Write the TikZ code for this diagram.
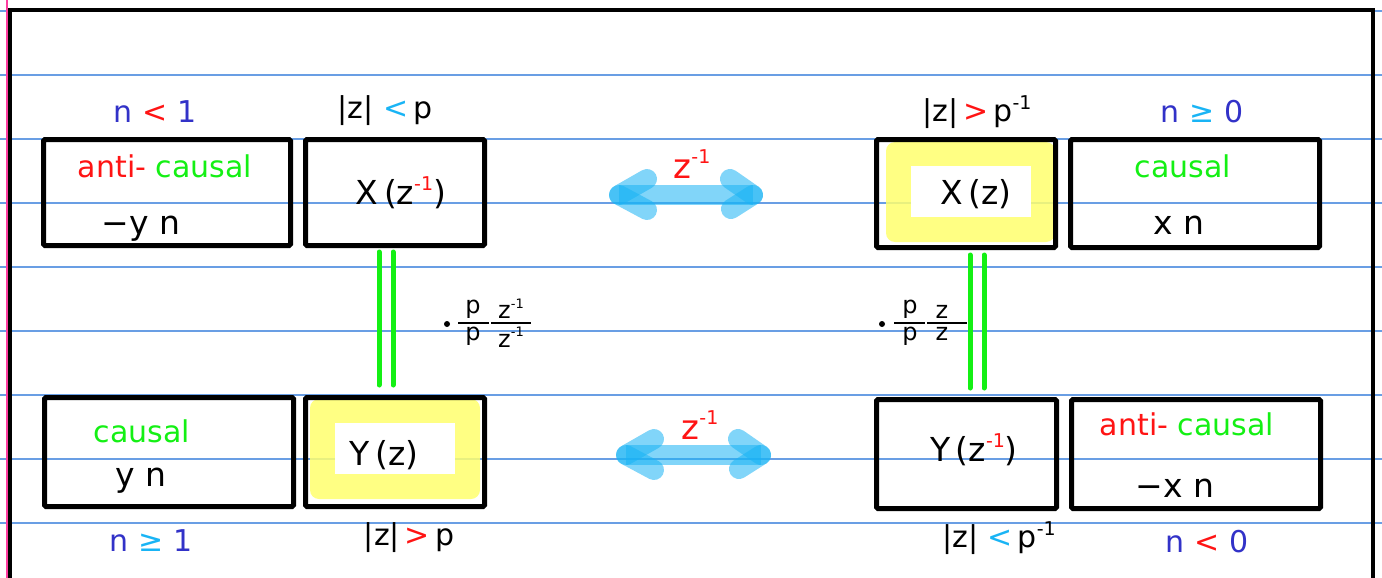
\documentclass[tikz,border=0pt]{standalone}
\usepackage{fontspec}
\setmainfont{DejaVu Sans}
\usetikzlibrary{calc}
\definecolor{rulec}{RGB}{105,158,228}
\definecolor{nblue}{RGB}{50,50,200}
\definecolor{cyanc}{RGB}{25,180,245}
\definecolor{redc}{RGB}{255,20,20}
\definecolor{greenc}{RGB}{20,240,20}
\definecolor{arrowc}{RGB}{26,180,245}
\definecolor{hyellow}{RGB}{255,255,110}
\definecolor{pinkc}{RGB}{255,60,160}
\newcommand{\hwf}{\fontsize{30}{32}\selectfont}
\newcommand{\bxf}{\fontsize{33}{35}\selectfont}
\newcommand{\sups}[1]{\raisebox{0.42em}{\fontsize{19}{19}\selectfont #1}}
\newcommand{\smsup}[1]{\raisebox{0.45em}{\fontsize{13}{13}\selectfont #1}}
\begin{document}
\begin{tikzpicture}[x=1pt,y=-1pt,
  box/.style={draw=black,line width=5pt,rounded corners=1.5pt,inner sep=0pt},
  lab/.style={font=\hwf,inner sep=0pt},
  blab/.style={font=\bxf,inner sep=0pt},
  frac/.style={font=\fontsize{24}{25}\selectfont,inner sep=0pt},
  fbar/.style={draw=black,line width=1.4pt},
  ruled/.style={draw=rulec,line width=1.1pt},
  frame/.style={draw=black,line width=4pt},
  hilite/.style={fill=hyellow,fill opacity=0.85,rounded corners=9pt},
  blank/.style={fill=white},
  eqline/.style={draw=greenc,line width=5pt,line cap=round},
  arrline/.style={draw=arrowc,draw opacity=0.55,line width=20pt},
  arrhead/.style={draw=arrowc,draw opacity=0.55,line width=20pt,line cap=round}
]
\useasboundingbox (0,0) rectangle (1382,578);
\fill[white] (0,0) rectangle (1382,578);
% ruled paper
\foreach \yy in {11,75,139,203,267,331,395,459,523}
  \draw[ruled] (0,\yy) -- (1382,\yy);
\draw[draw=pinkc,line width=2pt] (7,0) -- (7,578);
\draw[frame] (9.5,578) -- (9.5,10) -- (1372.5,10) -- (1372.5,578);

% highlights
\fill[hilite] (886,142) rectangle (1055,242);
\fill[blank] (911,166) rectangle (1031,217);
\fill[hilite] (310,399) rectangle (480,499);
\fill[blank] (335,423) rectangle (455,474);

% boxes
\node[box,minimum width=247pt,minimum height=106pt] (a) at (167,192.5) {};
\node[box,minimum width=179pt,minimum height=106pt] (b) at (395,192.5) {};
\node[box,minimum width=179pt,minimum height=108pt] (c) at (966,193.5) {};
\node[box,minimum width=249pt,minimum height=108pt] (d) at (1195,193.5) {};
\node[box,minimum width=249pt,minimum height=109pt] (e) at (169,452) {};
\node[box,minimum width=179pt,minimum height=109pt] (f) at (395,452) {};
\node[box,minimum width=180pt,minimum height=109pt] (g) at (966.5,454) {};
\node[box,minimum width=249pt,minimum height=109pt] (h) at (1196,454) {};

% box contents
\node[lab,anchor=base] (a1) at (165,177) {{\color{redc}anti-} {\color{greenc}causal}};
\node[blab] (a2) at (141,229) {−y n};
\node[blab] (b1) at (401,193) {X\,(z\sups{\color{redc}-1})};
\node[blab] (c1) at (976,194) {X\,(z)};
\node[lab,anchor=base] (d1) at (1183,177) {\color{greenc}causal};
\node[blab] (d2) at (1179,225) {x n};
\node[lab,anchor=base] (e1) at (142,442) {\color{greenc}causal};
\node[blab] (e2) at (141,481) {y n};
\node[blab] (f1) at (384,455) {Y\,(z)};
\node[blab] (g1) at (974,450) {Y\,(z\sups{\color{redc}-1})};
\node[lab,anchor=base] (h1) at (1187,435) {{\color{redc}anti-} {\color{greenc}causal}};
\node[blab] (h2) at (1175,488) {−x n};

% labels above / below
\node[lab] (la) at (155,112) {\color{nblue}n {\color{redc}<} 1};
\node[lab] (lb) at (385,111) {|z| {\color{cyanc}<}\,p};
\node[lab] (lc) at (977,112) {|z|\,{\color{redc}>}\,p\sups{-1}};
\node[lab] (ld) at (1202,112) {\color{nblue}n {\color{cyanc}≥} 0};
\node[lab] (le) at (151,541) {\color{nblue}n {\color{cyanc}≥} 1};
\node[lab] (lf) at (409,538) {|z|\,{\color{redc}>}\,p};
\node[lab] (lg) at (999,538) {|z| {\color{cyanc}<}\,p\sups{-1}};
\node[lab] (lh) at (1207,542) {\color{nblue}n {\color{redc}<} 0};

% equality connectors
\draw[eqline] ([xshift=-16pt,yshift=-4pt]b.south) -- ([xshift=-16pt,yshift=10pt]f.north);
\draw[eqline] ([xshift=-2pt,yshift=-4pt]b.south) -- ([xshift=-2pt,yshift=10pt]f.north);
\draw[eqline] ([xshift=4pt,yshift=-5pt]c.south) -- ([xshift=3.5pt,yshift=9pt]g.north);
\draw[eqline] ([xshift=18pt,yshift=-5pt]c.south) -- ([xshift=17.5pt,yshift=9pt]g.north);

% factor labels (left)
\fill (447,324) circle (3);
\node[frac,anchor=south] (lpn) at (473,319) {p};
\node[frac,anchor=north] (lpd) at (473,327) {p};
\node[frac,anchor=south] (lzn) at (511,319) {z\smsup{-1}};
\node[frac,anchor=north] (lzd) at (511,327) {z\smsup{-1}};
\draw[fbar] (458,323) -- (489,323);
\draw[fbar] (491,323) -- (531,323);
% factor labels (right)
\fill (882,324) circle (3);
\node[frac,anchor=south] (rpn) at (910,319) {p};
\node[frac,anchor=north] (rpd) at (910,327) {p};
\node[frac,anchor=south] (rzn) at (942,319) {z};
\node[frac,anchor=north] (rzd) at (942,327) {z};
\draw[fbar] (894,323) -- (925,323);
\draw[fbar] (927,323) -- (967,323);

% double arrows
\coordinate (tl) at (619,195);
\coordinate (tr) at (753,195);
\draw[arrline] (tl) -- (tr);
\draw[arrhead] (tl) -- ++(28,-16);
\draw[arrhead] (tl) -- ++(28,15);
\draw[arrhead] (tr) -- ++(-23,-16);
\draw[arrhead] (tr) -- ++(-22,14);
\node[lab,text=redc,font=\fontsize{34}{34}\selectfont] (tz) at (692,164) {z\sups{-1}};

\coordinate (bl) at (626,455);
\coordinate (br) at (761,455);
\draw[arrline] (bl) -- (br);
\draw[arrhead] (bl) -- ++(28,-16);
\draw[arrhead] (bl) -- ++(28,15);
\draw[arrhead] (br) -- ++(-23,-16);
\draw[arrhead] (br) -- ++(-22,14);
\node[lab,text=redc,font=\fontsize{34}{34}\selectfont] (bz) at (700,425) {z\sups{-1}};
\end{tikzpicture}
\end{document}
